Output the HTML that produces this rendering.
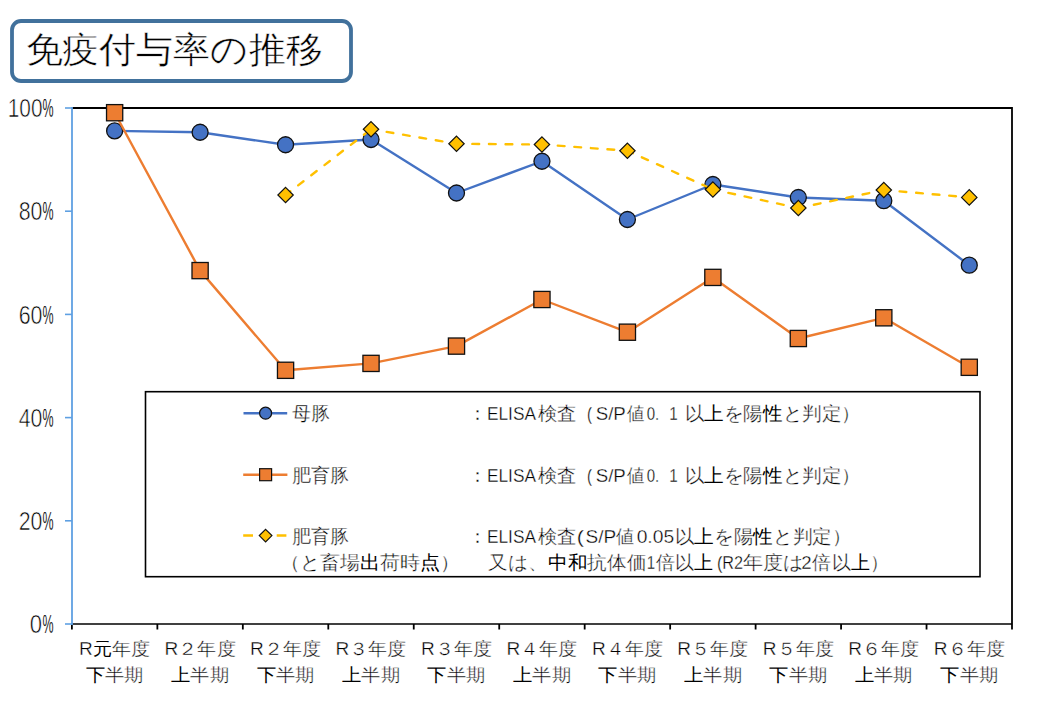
<!DOCTYPE html>
<html><head><meta charset="utf-8"><style>
html,body{margin:0;padding:0;background:#fff;width:1040px;height:720px;overflow:hidden}
svg{display:block}
text{font-family:"Liberation Sans", sans-serif;fill:#000}
.t{stroke:#fff;stroke-width:0.35px}
.b{stroke:none}
</style></head><body>
<svg width="1040" height="720" viewBox="0 0 1040 720">
<rect x="12" y="21" width="339" height="60" rx="9" ry="9" fill="#fff" stroke="#41719c" stroke-width="3.8"/>
<text x="25.5" y="61.8" font-size="36" textLength="297" stroke="#fff" stroke-width="0.5" lengthAdjust="spacingAndGlyphs" fill="#000">免疫付与率の推移</text>
<path d="M72,108 H1012 V624" fill="none" stroke="#000" stroke-width="1.8"/>
<path d="M71.5,624 H1012" fill="none" stroke="#000" stroke-width="1.7"/>
<path d="M71.90,624 V629.5" stroke="#000" stroke-width="1.8"/>
<path d="M157.36,624 V629.5" stroke="#000" stroke-width="1.8"/>
<path d="M242.83,624 V629.5" stroke="#000" stroke-width="1.8"/>
<path d="M328.29,624 V629.5" stroke="#000" stroke-width="1.8"/>
<path d="M413.75,624 V629.5" stroke="#000" stroke-width="1.8"/>
<path d="M499.22,624 V629.5" stroke="#000" stroke-width="1.8"/>
<path d="M584.68,624 V629.5" stroke="#000" stroke-width="1.8"/>
<path d="M670.15,624 V629.5" stroke="#000" stroke-width="1.8"/>
<path d="M755.61,624 V629.5" stroke="#000" stroke-width="1.8"/>
<path d="M841.07,624 V629.5" stroke="#000" stroke-width="1.8"/>
<path d="M926.54,624 V629.5" stroke="#000" stroke-width="1.8"/>
<path d="M1012.00,624 V629.5" stroke="#000" stroke-width="1.8"/>
<path d="M72,107 V625" stroke="#5fa0e2" stroke-width="1.8"/>
<path d="M65,624.00 H72" stroke="#5fa0e2" stroke-width="1.6"/>
<path d="M65,520.80 H72" stroke="#5fa0e2" stroke-width="1.6"/>
<path d="M65,417.60 H72" stroke="#5fa0e2" stroke-width="1.6"/>
<path d="M65,314.40 H72" stroke="#5fa0e2" stroke-width="1.6"/>
<path d="M65,211.20 H72" stroke="#5fa0e2" stroke-width="1.6"/>
<path d="M65,108.00 H72" stroke="#5fa0e2" stroke-width="1.6"/>
<text x="29.83" y="633.20" font-size="25.5" textLength="12.28" lengthAdjust="spacingAndGlyphs" fill="#000" stroke="#fff" stroke-width="0.6">0</text>
<text x="42.39" y="633.20" font-size="25.5" textLength="11.05" lengthAdjust="spacingAndGlyphs" fill="#000" stroke="#fff" stroke-width="0.2">%</text>
<text x="18.72" y="530.00" font-size="25.5" textLength="23.76" lengthAdjust="spacingAndGlyphs" fill="#000" stroke="#fff" stroke-width="0.6">20</text>
<text x="42.39" y="530.00" font-size="25.5" textLength="11.05" lengthAdjust="spacingAndGlyphs" fill="#000" stroke="#fff" stroke-width="0.2">%</text>
<text x="18.77" y="426.80" font-size="25.5" textLength="23.71" lengthAdjust="spacingAndGlyphs" fill="#000" stroke="#fff" stroke-width="0.6">40</text>
<text x="42.39" y="426.80" font-size="25.5" textLength="11.05" lengthAdjust="spacingAndGlyphs" fill="#000" stroke="#fff" stroke-width="0.2">%</text>
<text x="18.69" y="323.60" font-size="25.5" textLength="23.81" lengthAdjust="spacingAndGlyphs" fill="#000" stroke="#fff" stroke-width="0.6">60</text>
<text x="42.39" y="323.60" font-size="25.5" textLength="11.05" lengthAdjust="spacingAndGlyphs" fill="#000" stroke="#fff" stroke-width="0.2">%</text>
<text x="18.69" y="220.40" font-size="25.5" textLength="23.81" lengthAdjust="spacingAndGlyphs" fill="#000" stroke="#fff" stroke-width="0.6">80</text>
<text x="42.39" y="220.40" font-size="25.5" textLength="11.05" lengthAdjust="spacingAndGlyphs" fill="#000" stroke="#fff" stroke-width="0.2">%</text>
<text x="7.69" y="117.20" font-size="25.5" textLength="34.79" lengthAdjust="spacingAndGlyphs" fill="#000" stroke="#fff" stroke-width="0.6">100</text>
<text x="42.39" y="117.20" font-size="25.5" textLength="11.05" lengthAdjust="spacingAndGlyphs" fill="#000" stroke="#fff" stroke-width="0.2">%</text>
<text x="114.63" y="654.5" class="t" font-size="18" text-anchor="middle" textLength="71" lengthAdjust="spacingAndGlyphs" fill="#000">R<tspan class="b">元</tspan>年度</text>
<text x="114.63" y="680.5" class="t" font-size="18" text-anchor="middle" textLength="58" lengthAdjust="spacingAndGlyphs" fill="#000"><tspan class="b">下</tspan>半期</text>
<text x="200.10" y="654.5" class="t" font-size="18" text-anchor="middle" textLength="71" lengthAdjust="spacingAndGlyphs" fill="#000">R２年度</text>
<text x="200.10" y="680.5" class="t" font-size="18" text-anchor="middle" textLength="58" lengthAdjust="spacingAndGlyphs" fill="#000"><tspan class="b">上</tspan>半期</text>
<text x="285.56" y="654.5" class="t" font-size="18" text-anchor="middle" textLength="71" lengthAdjust="spacingAndGlyphs" fill="#000">R２年度</text>
<text x="285.56" y="680.5" class="t" font-size="18" text-anchor="middle" textLength="58" lengthAdjust="spacingAndGlyphs" fill="#000"><tspan class="b">下</tspan>半期</text>
<text x="371.02" y="654.5" class="t" font-size="18" text-anchor="middle" textLength="71" lengthAdjust="spacingAndGlyphs" fill="#000">R３年度</text>
<text x="371.02" y="680.5" class="t" font-size="18" text-anchor="middle" textLength="58" lengthAdjust="spacingAndGlyphs" fill="#000"><tspan class="b">上</tspan>半期</text>
<text x="456.49" y="654.5" class="t" font-size="18" text-anchor="middle" textLength="71" lengthAdjust="spacingAndGlyphs" fill="#000">R３年度</text>
<text x="456.49" y="680.5" class="t" font-size="18" text-anchor="middle" textLength="58" lengthAdjust="spacingAndGlyphs" fill="#000"><tspan class="b">下</tspan>半期</text>
<text x="541.95" y="654.5" class="t" font-size="18" text-anchor="middle" textLength="71" lengthAdjust="spacingAndGlyphs" fill="#000">R４年度</text>
<text x="541.95" y="680.5" class="t" font-size="18" text-anchor="middle" textLength="58" lengthAdjust="spacingAndGlyphs" fill="#000"><tspan class="b">上</tspan>半期</text>
<text x="627.41" y="654.5" class="t" font-size="18" text-anchor="middle" textLength="71" lengthAdjust="spacingAndGlyphs" fill="#000">R４年度</text>
<text x="627.41" y="680.5" class="t" font-size="18" text-anchor="middle" textLength="58" lengthAdjust="spacingAndGlyphs" fill="#000"><tspan class="b">下</tspan>半期</text>
<text x="712.88" y="654.5" class="t" font-size="18" text-anchor="middle" textLength="71" lengthAdjust="spacingAndGlyphs" fill="#000">R５年度</text>
<text x="712.88" y="680.5" class="t" font-size="18" text-anchor="middle" textLength="58" lengthAdjust="spacingAndGlyphs" fill="#000"><tspan class="b">上</tspan>半期</text>
<text x="798.34" y="654.5" class="t" font-size="18" text-anchor="middle" textLength="71" lengthAdjust="spacingAndGlyphs" fill="#000">R５年度</text>
<text x="798.34" y="680.5" class="t" font-size="18" text-anchor="middle" textLength="58" lengthAdjust="spacingAndGlyphs" fill="#000"><tspan class="b">下</tspan>半期</text>
<text x="883.80" y="654.5" class="t" font-size="18" text-anchor="middle" textLength="71" lengthAdjust="spacingAndGlyphs" fill="#000">R６年度</text>
<text x="883.80" y="680.5" class="t" font-size="18" text-anchor="middle" textLength="58" lengthAdjust="spacingAndGlyphs" fill="#000"><tspan class="b">上</tspan>半期</text>
<text x="969.27" y="654.5" class="t" font-size="18" text-anchor="middle" textLength="71" lengthAdjust="spacingAndGlyphs" fill="#000">R６年度</text>
<text x="969.27" y="680.5" class="t" font-size="18" text-anchor="middle" textLength="58" lengthAdjust="spacingAndGlyphs" fill="#000"><tspan class="b">下</tspan>半期</text>
<polyline points="114.63,130.90 200.10,132.25 285.56,144.75 371.02,139.50 456.49,193.00 541.95,161.25 627.41,219.50 712.88,184.50 798.34,197.50 883.80,200.70 969.27,265.20" fill="none" stroke="#4472c4" stroke-width="2.4" stroke-linejoin="round"/>
<circle cx="114.63" cy="130.90" r="8.0" fill="#4472c4" stroke="#111" stroke-width="1.3"/>
<circle cx="200.10" cy="132.25" r="8.0" fill="#4472c4" stroke="#111" stroke-width="1.3"/>
<circle cx="285.56" cy="144.75" r="8.0" fill="#4472c4" stroke="#111" stroke-width="1.3"/>
<circle cx="371.02" cy="139.50" r="8.0" fill="#4472c4" stroke="#111" stroke-width="1.3"/>
<circle cx="456.49" cy="193.00" r="8.0" fill="#4472c4" stroke="#111" stroke-width="1.3"/>
<circle cx="541.95" cy="161.25" r="8.0" fill="#4472c4" stroke="#111" stroke-width="1.3"/>
<circle cx="627.41" cy="219.50" r="8.0" fill="#4472c4" stroke="#111" stroke-width="1.3"/>
<circle cx="712.88" cy="184.50" r="8.0" fill="#4472c4" stroke="#111" stroke-width="1.3"/>
<circle cx="798.34" cy="197.50" r="8.0" fill="#4472c4" stroke="#111" stroke-width="1.3"/>
<circle cx="883.80" cy="200.70" r="8.0" fill="#4472c4" stroke="#111" stroke-width="1.3"/>
<circle cx="969.27" cy="265.20" r="8.0" fill="#4472c4" stroke="#111" stroke-width="1.3"/>
<polyline points="114.63,112.70 200.10,270.60 285.56,370.30 371.02,363.40 456.49,346.10 541.95,299.50 627.41,332.20 712.88,277.40 798.34,338.50 883.80,317.80 969.27,367.30" fill="none" stroke="#ed7d31" stroke-width="2.4" stroke-linejoin="round"/>
<rect x="106.53" y="104.60" width="16.2" height="16.2" fill="#ed7d31" stroke="#111" stroke-width="1.3"/>
<rect x="192.00" y="262.50" width="16.2" height="16.2" fill="#ed7d31" stroke="#111" stroke-width="1.3"/>
<rect x="277.46" y="362.20" width="16.2" height="16.2" fill="#ed7d31" stroke="#111" stroke-width="1.3"/>
<rect x="362.92" y="355.30" width="16.2" height="16.2" fill="#ed7d31" stroke="#111" stroke-width="1.3"/>
<rect x="448.39" y="338.00" width="16.2" height="16.2" fill="#ed7d31" stroke="#111" stroke-width="1.3"/>
<rect x="533.85" y="291.40" width="16.2" height="16.2" fill="#ed7d31" stroke="#111" stroke-width="1.3"/>
<rect x="619.31" y="324.10" width="16.2" height="16.2" fill="#ed7d31" stroke="#111" stroke-width="1.3"/>
<rect x="704.78" y="269.30" width="16.2" height="16.2" fill="#ed7d31" stroke="#111" stroke-width="1.3"/>
<rect x="790.24" y="330.40" width="16.2" height="16.2" fill="#ed7d31" stroke="#111" stroke-width="1.3"/>
<rect x="875.70" y="309.70" width="16.2" height="16.2" fill="#ed7d31" stroke="#111" stroke-width="1.3"/>
<rect x="961.17" y="359.20" width="16.2" height="16.2" fill="#ed7d31" stroke="#111" stroke-width="1.3"/>
<path d="M285.56,195.00 L371.02,129.25" fill="none" stroke="#ffc000" stroke-width="2.4" stroke-linecap="round" stroke-dasharray="6.8,9.8" stroke-dashoffset="0.75"/>
<path d="M371.02,129.25 L456.49,143.75" fill="none" stroke="#ffc000" stroke-width="2.4" stroke-linecap="round" stroke-dasharray="6.8,9.8" stroke-dashoffset="0.75"/>
<path d="M456.49,143.75 L541.95,144.50" fill="none" stroke="#ffc000" stroke-width="2.4" stroke-linecap="round" stroke-dasharray="6.8,9.8" stroke-dashoffset="0.75"/>
<path d="M541.95,144.50 L627.41,150.75" fill="none" stroke="#ffc000" stroke-width="2.4" stroke-linecap="round" stroke-dasharray="6.8,9.8" stroke-dashoffset="0.75"/>
<path d="M627.41,150.75 L712.88,189.50" fill="none" stroke="#ffc000" stroke-width="2.4" stroke-linecap="round" stroke-dasharray="6.8,9.8" stroke-dashoffset="0.75"/>
<path d="M712.88,189.50 L798.34,208.00" fill="none" stroke="#ffc000" stroke-width="2.4" stroke-linecap="round" stroke-dasharray="6.8,9.8" stroke-dashoffset="0.75"/>
<path d="M798.34,208.00 L883.80,190.00" fill="none" stroke="#ffc000" stroke-width="2.4" stroke-linecap="round" stroke-dasharray="6.8,9.8" stroke-dashoffset="0.75"/>
<path d="M883.80,190.00 L969.27,197.40" fill="none" stroke="#ffc000" stroke-width="2.4" stroke-linecap="round" stroke-dasharray="6.8,9.8" stroke-dashoffset="0.75"/>
<path d="M285.56,187.30 L293.26,195.00 L285.56,202.70 L277.86,195.00 Z" fill="#ffc000" stroke="#111" stroke-width="1.2"/>
<path d="M371.02,121.55 L378.72,129.25 L371.02,136.95 L363.32,129.25 Z" fill="#ffc000" stroke="#111" stroke-width="1.2"/>
<path d="M456.49,136.05 L464.19,143.75 L456.49,151.45 L448.79,143.75 Z" fill="#ffc000" stroke="#111" stroke-width="1.2"/>
<path d="M541.95,136.80 L549.65,144.50 L541.95,152.20 L534.25,144.50 Z" fill="#ffc000" stroke="#111" stroke-width="1.2"/>
<path d="M627.41,143.05 L635.11,150.75 L627.41,158.45 L619.71,150.75 Z" fill="#ffc000" stroke="#111" stroke-width="1.2"/>
<path d="M712.88,181.80 L720.58,189.50 L712.88,197.20 L705.18,189.50 Z" fill="#ffc000" stroke="#111" stroke-width="1.2"/>
<path d="M798.34,200.30 L806.04,208.00 L798.34,215.70 L790.64,208.00 Z" fill="#ffc000" stroke="#111" stroke-width="1.2"/>
<path d="M883.80,182.30 L891.50,190.00 L883.80,197.70 L876.10,190.00 Z" fill="#ffc000" stroke="#111" stroke-width="1.2"/>
<path d="M969.27,189.70 L976.97,197.40 L969.27,205.10 L961.57,197.40 Z" fill="#ffc000" stroke="#111" stroke-width="1.2"/>
<rect x="145.5" y="391.7" width="834.5" height="185" fill="#fff" stroke="#000" stroke-width="1.6"/>
<path d="M243.5,413.2 H287.2" stroke="#4472c4" stroke-width="2.5"/>
<circle cx="265.6" cy="413.2" r="6" fill="#4472c4" stroke="#111" stroke-width="1.2"/>
<path d="M243.2,474.7 H287.4" stroke="#ed7d31" stroke-width="2.5"/>
<rect x="259.6" y="468.7" width="12" height="12" fill="#ed7d31" stroke="#111" stroke-width="1.2"/>
<path d="M243.2,535.6 H253 M276.7,535.6 H286.4" stroke="#ffc000" stroke-width="2.5"/>
<path d="M265.6,529.3 L271.9,535.6 L265.6,541.9 L259.3,535.6 Z" fill="#ffc000" stroke="#111" stroke-width="1.2"/>
<text x="292" y="419.5" class="t" font-size="19" textLength="38" lengthAdjust="spacingAndGlyphs">母豚</text>
<text x="292" y="482" class="t" font-size="19" textLength="57" lengthAdjust="spacingAndGlyphs">肥育豚</text>
<text x="292" y="543" class="t" font-size="19" textLength="57" lengthAdjust="spacingAndGlyphs">肥育豚</text>
<text x="279.5" y="568.5" class="t" font-size="19" textLength="181" lengthAdjust="spacingAndGlyphs">（と畜場<tspan class="b">出</tspan>荷時<tspan class="b">点</tspan>）</text>
<text x="468.00" y="420" class="t" font-size="19" textLength="19.00" lengthAdjust="spacingAndGlyphs">：</text>
<text x="468.00" y="481.5" class="t" font-size="19" textLength="19.00" lengthAdjust="spacingAndGlyphs">：</text>
<text x="468.00" y="542.5" class="t" font-size="19" textLength="19.00" lengthAdjust="spacingAndGlyphs">：</text>
<text x="486.98" y="420" class="t" font-size="19" textLength="49.03" lengthAdjust="spacingAndGlyphs">ELISA</text>
<text x="486.98" y="481.5" class="t" font-size="19" textLength="49.03" lengthAdjust="spacingAndGlyphs">ELISA</text>
<text x="537.50" y="420" class="t" font-size="19" textLength="38.69" lengthAdjust="spacingAndGlyphs">検査</text>
<text x="537.50" y="481.5" class="t" font-size="19" textLength="38.69" lengthAdjust="spacingAndGlyphs">検査</text>
<text x="586.95" y="420" class="t" font-size="19" textLength="4.94" lengthAdjust="spacingAndGlyphs">(</text>
<text x="586.95" y="481.5" class="t" font-size="19" textLength="4.94" lengthAdjust="spacingAndGlyphs">(</text>
<text x="595.70" y="420" class="t" font-size="19" textLength="30.09" lengthAdjust="spacingAndGlyphs">S/P</text>
<text x="595.70" y="481.5" class="t" font-size="19" textLength="30.09" lengthAdjust="spacingAndGlyphs">S/P</text>
<text x="626.70" y="420" class="t" font-size="19" textLength="17.43" lengthAdjust="spacingAndGlyphs">値</text>
<text x="626.70" y="481.5" class="t" font-size="19" textLength="17.43" lengthAdjust="spacingAndGlyphs">値</text>
<text x="646.70" y="420" class="t" font-size="19" textLength="12.54" lengthAdjust="spacingAndGlyphs">0.</text>
<text x="646.70" y="481.5" class="t" font-size="19" textLength="12.54" lengthAdjust="spacingAndGlyphs">0.</text>
<text x="669.16" y="420" class="t" font-size="19" textLength="8.50" lengthAdjust="spacingAndGlyphs">1</text>
<text x="669.16" y="481.5" class="t" font-size="19" textLength="8.50" lengthAdjust="spacingAndGlyphs">1</text>
<text x="684.57" y="420" class="t" font-size="19" textLength="176.34" lengthAdjust="spacingAndGlyphs">以<tspan class="b">上</tspan>を陽<tspan class="b">性</tspan>と判定）</text>
<text x="684.57" y="481.5" class="t" font-size="19" textLength="176.34" lengthAdjust="spacingAndGlyphs">以<tspan class="b">上</tspan>を陽<tspan class="b">性</tspan>と判定）</text>
<text x="486.98" y="542.5" class="t" font-size="19" textLength="49.02" lengthAdjust="spacingAndGlyphs">ELISA</text>
<text x="537.50" y="542.5" class="t" font-size="19" textLength="38.69" lengthAdjust="spacingAndGlyphs">検査</text>
<text x="576.80" y="542.5" class="t" font-size="19" textLength="7.20" lengthAdjust="spacingAndGlyphs">(</text>
<text x="585.62" y="542.5" class="t" font-size="19" textLength="30.59" lengthAdjust="spacingAndGlyphs">S/P</text>
<text x="615.77" y="542.5" class="t" font-size="19" textLength="18.02" lengthAdjust="spacingAndGlyphs">値</text>
<text x="636.65" y="542.5" class="t" font-size="19" textLength="37.48" lengthAdjust="spacingAndGlyphs">0.05</text>
<text x="674.58" y="542.5" class="t" font-size="19" textLength="176.92" lengthAdjust="spacingAndGlyphs">以<tspan class="b">上</tspan>を陽<tspan class="b">性</tspan>と判定）</text>
<text x="487.93" y="568.5" class="t" font-size="19" textLength="59.57" lengthAdjust="spacingAndGlyphs">又は、</text>
<text x="548.23" y="568.5" class="t" font-size="19" textLength="98.05" lengthAdjust="spacingAndGlyphs"><tspan class="b">中和</tspan>抗体価</text>
<text x="646.81" y="568.5" class="t" font-size="19" textLength="8.34" lengthAdjust="spacingAndGlyphs">1</text>
<text x="656.00" y="568.5" class="t" font-size="19" textLength="57.02" lengthAdjust="spacingAndGlyphs">倍以<tspan class="b">上</tspan></text>
<text x="716.91" y="568.5" class="t" font-size="19" textLength="26.13" lengthAdjust="spacingAndGlyphs">(R2</text>
<text x="743.25" y="568.5" class="t" font-size="19" textLength="60.11" lengthAdjust="spacingAndGlyphs">年度は</text>
<text x="801.26" y="568.5" class="t" font-size="19" textLength="10.36" lengthAdjust="spacingAndGlyphs">2</text>
<text x="812.49" y="568.5" class="t" font-size="19" textLength="76.10" lengthAdjust="spacingAndGlyphs">倍以<tspan class="b">上</tspan>）</text>
</svg>
</body></html>
